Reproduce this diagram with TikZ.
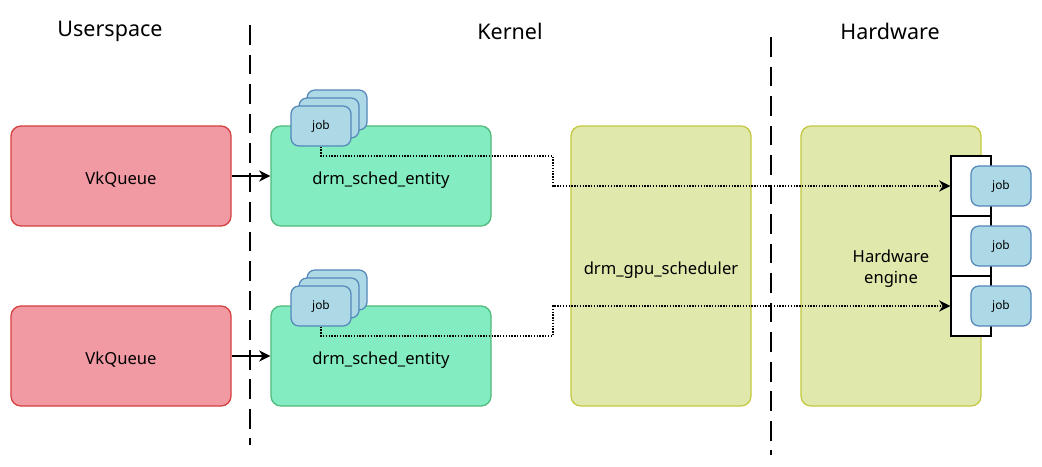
\documentclass[tikz,border=0pt]{standalone}
\usepackage{fontspec}
\setsansfont{Noto Sans}
\usepackage{tikz}
\usetikzlibrary{arrows,arrows.meta}
\definecolor{vkfill}{RGB}{241,154,163}
\definecolor{vkdraw}{RGB}{214,64,64}
\definecolor{entfill}{RGB}{131,236,192}
\definecolor{entdraw}{RGB}{80,186,124}
\definecolor{schfill}{RGB}{224,232,172}
\definecolor{schdraw}{RGB}{196,200,64}
\definecolor{jobfill}{RGB}{173,216,230}
\definecolor{jobdraw}{RGB}{84,136,186}
\tikzset{
  blk/.style = {rectangle, rounded corners=0.25cm, inner sep=0pt,
    font=\sffamily\fontsize{11.8}{14.5}\selectfont, line width=0.9pt,
    text height=12pt, text depth=0pt},
  blk_vk/.style = {blk, fill=vkfill, draw=vkdraw,
    minimum width=5.5cm, minimum height=2.5cm},% userspace queue
  blk_ent/.style = {blk, fill=entfill, draw=entdraw,
    minimum width=5.5cm, minimum height=2.5cm},% scheduler entity
  blk_hw/.style = {blk, fill=schfill, draw=schdraw,
    minimum width=4.5cm, minimum height=7cm},% scheduler / engine
  job_n/.style = {rectangle, rounded corners=0.2cm, fill=jobfill, draw=jobdraw,
    line width=0.9pt, minimum width=1.5cm, minimum height=1cm, inner sep=0pt,
    font=\sffamily\fontsize{8.5}{10}\selectfont},% job
  slot_n/.style = {rectangle, draw=black, fill=white, line width=0.9pt,
    minimum width=1cm, minimum height=1.5cm, inner sep=0pt},% hw ring slot
  head_n/.style = {font=\sffamily\fontsize{15.3}{18}\selectfont},
  sep_line/.style = {-, black, line width=1.4pt, dash pattern=on 14pt off 7pt},
  push_line/.style = {-{Stealth[length=8pt,width=8pt,inset=2.5pt]}, black,
    line width=1.1pt},
  job_line/.style = {-{Stealth[length=8pt,width=8pt,inset=2.5pt]}, black,
    line width=1pt, dash pattern=on 1pt off 1pt},
}
\begin{document}
\begin{tikzpicture}[->,>=stealth',thick,x=0.025cm,y=-0.025cm]
  \useasboundingbox (0,0) rectangle (1042,467);

  \node[head_n] (huser) at (110,31) {Userspace};
  \node[head_n] (hkern) at (510,31) {Kernel};
  \node[head_n] (hhw) at (890,31) {Hardware};

  \draw[sep_line] (250,25) -- (250,445);
  \draw[sep_line] (771,37) -- (771,455);

  %   userspace queues
  \node[blk_vk] (vk1) at (121,176) {VkQueue};
  \node[blk_vk] (vk2) at (121,356) {VkQueue};

  %   kernel side
  \node[blk_ent] (ent1) at (381,176) {drm\_sched\_entity};
  \node[blk_ent] (ent2) at (381,356) {drm\_sched\_entity};
  \node[blk_hw] (sched) at (661,266) {drm\_gpu\_scheduler};

  \path[push_line] (vk1) edge (ent1);
  \path[push_line] (vk2) edge (ent2);

  %   pending jobs of each entity
  \node[job_n] (jb1c) at (337,110) {};
  \node[job_n] (jb1b) at (329,118) {};
  \node[job_n] (jb1a) at (321,126) {job};
  \node[job_n] (jb2c) at (337,290) {};
  \node[job_n] (jb2b) at (329,298) {};
  \node[job_n] (jb2a) at (321,306) {job};

  %   hardware
  \node[blk_hw, align=center, text height=, text depth=] (engine) at (891,266)
    {\rule{0pt}{13pt}Hardware\\engine};
  \node[slot_n] (slot1) at (971,186) {};
  \node[slot_n] (slot2) at (971,246) {};
  \node[slot_n] (slot3) at (971,306) {};
  \node[job_n] (qj1) at (1001,186) {job};
  \node[job_n] (qj2) at (1001,246) {job};
  \node[job_n] (qj3) at (1001,306) {job};

  %   jobs pushed to the ring
  \coordinate (bend1) at (553,156);
  \coordinate (bend2) at (553,336);
  \draw[job_line] (jb1a.south) |- (bend1) |- (slot1.west);
  \draw[job_line] (jb2a.south) |- (bend2) |- (slot3.west);
\end{tikzpicture}
\end{document}
